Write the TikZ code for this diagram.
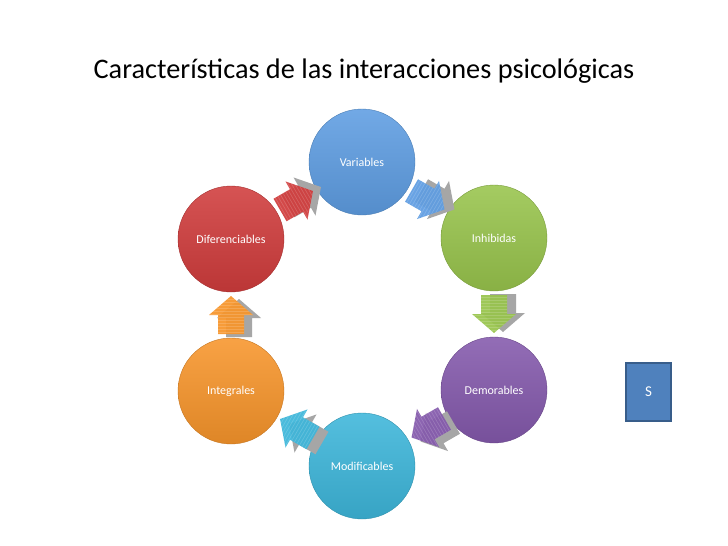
\documentclass[tikz,border=0pt]{standalone}
\usepackage{fontspec}
\setmainfont{Carlito}
\usetikzlibrary{calc}
\definecolor{cblue}{HTML}{5E9DE2}
\definecolor{cgreen}{HTML}{98C44C}
\definecolor{cpurple}{HTML}{8459AC}
\definecolor{ccyan}{HTML}{3DB6DA}
\definecolor{corange}{HTML}{F7952B}
\definecolor{cred}{HTML}{D03C3C}
\definecolor{sfill}{HTML}{4F81BD}
\definecolor{sdraw}{HTML}{385D8A}
\definecolor{ashadow}{HTML}{A6A6A6}
\tikzset{
  bubble/.style={circle, minimum size=106pt, inner sep=0pt, text=white,
    font=\fontsize{12}{14}\selectfont, draw=#1!80!black, line width=0.4pt,
    top color=#1!88!white, bottom color=#1!90!black},
  sbox/.style={rectangle, minimum width=45pt, minimum height=58pt, fill=sfill,
    draw=sdraw, line width=1.5pt, text=white, font=\fontsize{15}{17}\selectfont},
  titletext/.style={font=\fontsize{28.3}{32}\selectfont, text=black, anchor=base},
}
\def\arrpath{(-19,-13) -- (0,-13) -- (0,-22) -- (19,0) -- (0,22) -- (0,13) -- (-19,13) -- cycle}
% #1 first node, #2 second node, #3 angle, #4 colour, #5 shadow shift
\newcommand\blockarr[5]{%
  \begin{scope}[shift={($(#1)!0.5!(#2)$)}]
    \begin{scope}[shift={#5}, rotate=#3]
      \fill[ashadow] \arrpath;
    \end{scope}
    \begin{scope}[rotate=#3]
      \fill[#4, opacity=0.93] \arrpath;
      \clip \arrpath;
      \foreach \i in {-17,-14,...,17} {
        \draw[white, opacity=0.16, line width=0.7pt] (\i,-24) -- (\i,24);
      }
    \end{scope}
  \end{scope}}
\begin{document}
\begin{tikzpicture}[x=1pt, y=-1pt]
  \fill[white] (0,0) rectangle (728,546);
  \useasboundingbox (0,0) rectangle (728,546);

  \node[titletext] (title) at (364,78) {Características de las interacciones psicológicas};

  \node[bubble=cblue]   (var) at (362,162) {Variables};
  \node[bubble=cgreen]  (inh) at (494,238) {Inhibidas};
  \node[bubble=cpurple] (dem) at (494,390) {Demorables};
  \node[bubble=ccyan]   (mod) at (362,466) {Modificables};
  \node[bubble=corange] (int) at (231,391) {Integrales};
  \node[bubble=cred]    (dif) at (231,239) {Diferenciables};

  \blockarr{dif}{var}{30}{cred}{(8,-4)}
  \blockarr{var}{inh}{-30}{cblue}{(10,0)}
  \blockarr{inh}{dem}{-90}{cgreen}{(9,-1)}
  \blockarr{dem}{mod}{210}{cpurple}{(9,4)}
  \blockarr{mod}{int}{150}{ccyan}{(9,5)}
  \blockarr{int}{dif}{90}{corange}{(8,3)}

  \node[sbox] (s) at (648.5,392) {S};
\end{tikzpicture}
\end{document}
